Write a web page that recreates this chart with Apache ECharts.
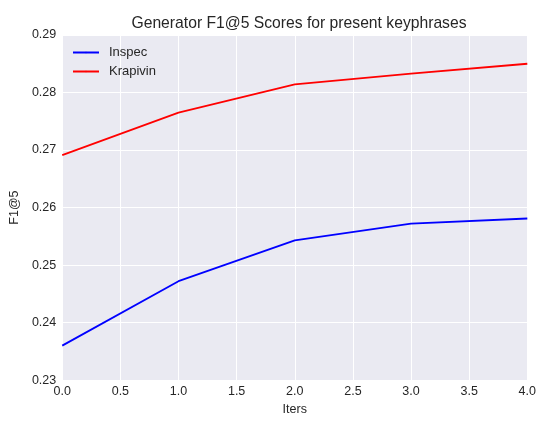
<!DOCTYPE html>
<html lang="en">
<head>
<meta charset="UTF-8">
<title>Generator F1@5 Scores</title>
<script src="https://cdn.jsdelivr.net/npm/echarts@6.0.0/dist/echarts.min.js"></script>
<style>
    html, body { margin: 0; padding: 0; background: #fff; }
    #chart { width: 539px; height: 421px; }
</style>
</head>
<body>
<div id="chart"></div>
<script>
    // values
    const iters = [0, 1, 2, 3, 4];
    const inspec = [0.2360, 0.2472, 0.2543, 0.2572, 0.2581];
    const krapivin = [0.2691, 0.2765, 0.2814, 0.2833, 0.2850];

    const pairs = (ys) => iters.map((x, i) => [x, ys[i]]);

    const myChart = echarts.init(document.getElementById('chart'));
    const font = 'Liberation Sans, Arial, sans-serif';

    const option = {
        backgroundColor: '#ffffff',
        animation: false,
        title: {
            text: 'Generator F1@5 Scores for present keyphrases',
            left: 294,
            textAlign: 'center',
            top: 11,
            textStyle: { fontFamily: font, fontSize: 15.7, fontWeight: 'normal', color: '#262626' }
        },
        legend: {
            orient: 'vertical',
            left: 67,
            top: 41,
            itemWidth: 26,
            itemHeight: 2,
            itemGap: 6,
            textStyle: { fontFamily: font, fontSize: 13, color: '#262626', padding: [0, 0, 0, 5] },
            data: ['Inspec', 'Krapivin']
        },
        grid: { left: 60, right: 11, top: 35, bottom: 37, show: true, backgroundColor: '#eaeaf2', borderWidth: 0 },
        xAxis: {
            type: 'value',
            min: 0, max: 4, interval: 0.5,
            name: 'Iters',
            nameLocation: 'middle',
            nameGap: 21,
            nameTextStyle: { fontFamily: font, fontSize: 12.5, color: '#262626' },
            axisLine: { show: false },
            axisTick: { show: false },
            axisLabel: { fontFamily: font, fontSize: 12.5, color: '#262626', margin: 5, formatter: v => v.toFixed(1) },
            splitLine: { lineStyle: { color: '#ffffff', width: 1 } }
        },
        yAxis: {
            type: 'value',
            min: 0.23, max: 0.29, interval: 0.01,
            name: 'F1@5',
            nameLocation: 'middle',
            nameGap: 37,
            nameTextStyle: { fontFamily: font, fontSize: 12.5, color: '#262626' },
            axisLine: { show: false },
            axisTick: { show: false },
            axisLabel: { fontFamily: font, fontSize: 12.5, color: '#262626', margin: 6, formatter: v => v.toFixed(2) },
            splitLine: { lineStyle: { color: '#ffffff', width: 1 } }
        },
        series: [
            {
                name: 'Inspec', type: 'line', data: pairs(inspec),
                symbol: 'none', color: '#0000ff', lineStyle: { width: 1.8 }
            },
            {
                name: 'Krapivin', type: 'line', data: pairs(krapivin),
                symbol: 'none', color: '#ff0000', lineStyle: { width: 1.8 }
            }
        ]
    };

    myChart.setOption(option);
</script>
</body>
</html>
